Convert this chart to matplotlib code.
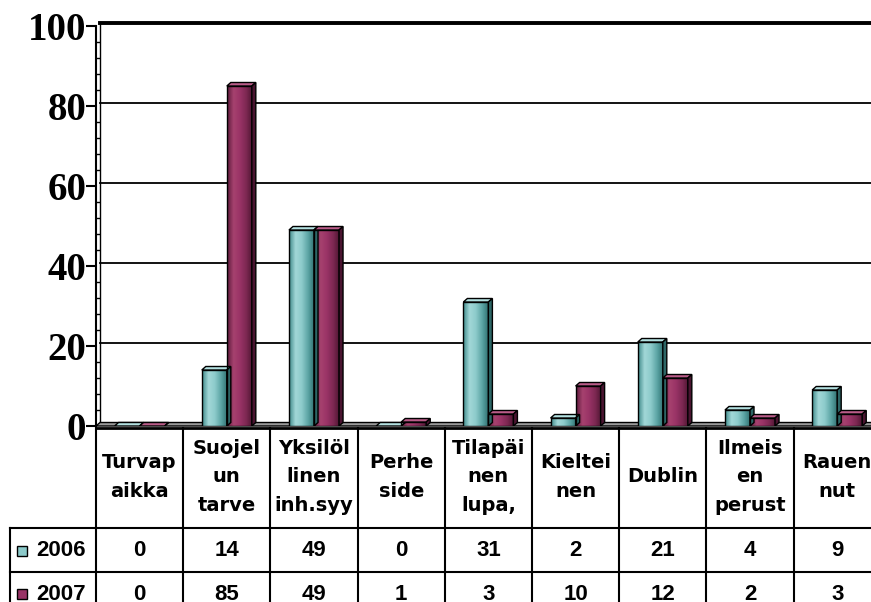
import numpy as np
import matplotlib
matplotlib.use("Agg")
import matplotlib.pyplot as plt
from matplotlib import ticker
from matplotlib.colors import LinearSegmentedColormap
from matplotlib.patches import Polygon, Rectangle

# --- data ---
categories = ["Turvap\naikka", "Suojel\nun\ntarve", "Yksilöl\nlinen\ninh.syy",
              "Perhe\nside", "Tilapäi\nnen\nlupa,", "Kieltei\nnen", "Dublin",
              "Ilmeis\nen\nperust", "Rauen\nnut"]
series_names = ["2006", "2007"]
values_2006 = [0, 14, 49, 0, 31, 2, 21, 4, 9]
values_2007 = [0, 85, 49, 1, 3, 10, 12, 2, 3]
y_ticks = [0, 20, 40, 60, 80, 100]

# --- layout (pixels) ---
W, H = 871, 602
x_left = 96
col_w = 87.2
y_zero = 426
y_top = 26
hdr_top, hdr_bot, row_bot = 428, 528, 572
row_centers = [551, 594]

face_cmaps = [
    LinearSegmentedColormap.from_list("teal", ["#3f8a8a", "#a2d8d8", "#8ccaca", "#5aa3a3", "#2e6e6e"]),
    LinearSegmentedColormap.from_list("maroon", ["#5c1a3b", "#a6426f", "#993366", "#7d2852", "#4d1530"]),
]
top_colors = ["#b3e0e0", "#b95c88"]
side_colors = ["#2d6666", "#4a1430"]
key_colors = ["#8ccaca", "#993366"]

fig = plt.figure(figsize=(W / 100, H / 100), dpi=100)

# table underneath, in pixel coordinates
tab = fig.add_axes([0, 0, 1, 1])
tab.set_xlim(0, W)
tab.set_ylim(H, 0)
tab.axis("off")

ax = fig.add_axes([x_left / W, (H - y_zero) / H, (W - x_left) / W, (y_zero - y_top) / H])
ax.patch.set_alpha(0)
xmax = (W - x_left) / col_w
ax.set_xlim(0, xmax)
ax.set_ylim(0, 100)

# depth of the 3D effect in data units
ddx = 4 / col_w
ddy = 3.5 * 100 / (y_zero - y_top)

# back wall and gridlines
ax.plot([ddx, ddx], [ddy, 100 + ddy], color="black", lw=1, clip_on=False, zorder=1)
for v in y_ticks[1:]:
    ax.plot([ddx, xmax + 1], [v + ddy, v + ddy], color="black",
            lw=2.8 if v == y_ticks[-1] else 1.3, clip_on=False, zorder=1)

# floor
ax.add_patch(Polygon([(0, 0), (xmax + 1, 0), (xmax + 1 + ddx, ddy), (ddx, ddy)],
                     closed=True, fc="#9a9a9a", ec="black", lw=1, clip_on=False, zorder=2))

# bars
bar_w = 0.287
grad = np.linspace(0, 1, 64)[None, :]
for i in range(len(categories)):
    c = i + 0.5
    for s, vals in enumerate([values_2006, values_2007]):
        h = vals[i]
        x0 = c - bar_w + s * bar_w
        if h > 0:
            ax.imshow(grad, cmap=face_cmaps[s], extent=(x0, x0 + bar_w, 0, h),
                      aspect="auto", interpolation="bilinear", zorder=3)
        ax.add_patch(Rectangle((x0, 0), bar_w, h, fill=False, ec="black", lw=1, zorder=4))
        ax.add_patch(Polygon([(x0, h), (x0 + bar_w, h), (x0 + bar_w + ddx, h + ddy), (x0 + ddx, h + ddy)],
                             closed=True, fc=top_colors[s], ec="black", lw=1, zorder=4))
        ax.add_patch(Polygon([(x0 + bar_w, 0), (x0 + bar_w, h), (x0 + bar_w + ddx, h + ddy), (x0 + bar_w + ddx, ddy)],
                             closed=True, fc=side_colors[s], ec="black", lw=1, zorder=4))

ax.set_xlim(0, xmax)
ax.set_ylim(0, 100)

# axis styling
for side in ["top", "right", "bottom"]:
    ax.spines[side].set_visible(False)
ax.spines["left"].set_linewidth(1.5)
ax.set_xticks([])
ax.yaxis.set_major_locator(ticker.FixedLocator(y_ticks))
ax.yaxis.set_minor_locator(ticker.MultipleLocator(4))
ax.set_yticklabels([str(v) for v in y_ticks], fontfamily="Liberation Serif",
                   fontweight="bold", fontsize=28)
ax.tick_params(axis="y", which="major", direction="out", length=7, width=1.5, pad=0)
ax.tick_params(axis="y", which="minor", direction="in", length=3, width=1)

# --- data table ---
edges = x_left + col_w * np.arange(len(categories) + 1)
lk = dict(color="black", lw=1.5)
tab.plot([x_left, W], [hdr_top, hdr_top], color="black", lw=2)
for e in edges:
    tab.plot([e, e], [hdr_top, H], **lk)
tab.plot([10, 10], [hdr_bot, H], **lk)
for yy in (hdr_bot, row_bot):
    tab.plot([10, W], [yy, yy], **lk)

for i, cat in enumerate(categories):
    cx = (edges[i] + edges[i + 1]) / 2
    tab.text(cx, (hdr_top + hdr_bot) / 2 - 1, cat, ha="center", va="center",
             fontsize=14, fontweight="bold", fontfamily="DejaVu Sans", linespacing=1.65)

for r, (name, vals) in enumerate(zip(series_names, [values_2006, values_2007])):
    yc = row_centers[r]
    tab.add_patch(Rectangle((17, yc - 5), 10, 10, fc=key_colors[r], ec="black", lw=1))
    tab.text(36, yc, name, ha="left", va="center", fontsize=16,
             fontweight="bold", fontfamily="Liberation Sans")
    for i, v in enumerate(vals):
        cx = (edges[i] + edges[i + 1]) / 2
        tab.text(cx, yc, str(v), ha="center", va="center", fontsize=16,
                 fontweight="bold", fontfamily="Liberation Sans")

fig.savefig("out.png", dpi=100)
